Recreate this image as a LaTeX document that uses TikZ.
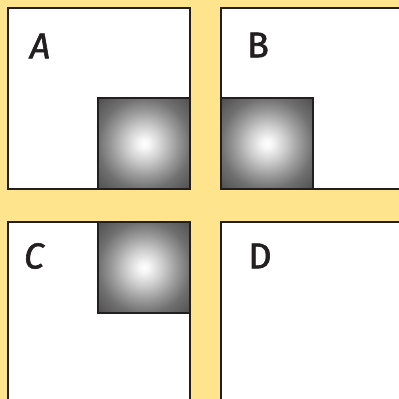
\documentclass[tikz,border=0pt]{standalone}
\usepackage{fontspec}
\setmainfont{Fira Sans}
\newfontfamily\lblfont[FakeBold=1.6]{Fira Sans}
\definecolor{bgyellow}{HTML}{FEE48C}
\definecolor{edge}{HTML}{231F20}
\pgfdeclareradialshading{softball}{\pgfpoint{0bp}{0bp}}{%
  color(0bp)=(white);
  color(3bp)=(white!96!black);
  color(10bp)=(white!80!black);
  color(18bp)=(white!60!black);
  color(25bp)=(white!44!black);
  color(36bp)=(white!30!black);
  color(50bp)=(white!30!black)}
\tikzset{
  panel/.style={draw=edge, fill=white, line width=2.5pt},
  darksq/.style={draw=edge, line width=2.5pt, shading=softball},
  lbl/.style={font=\lblfont\fontsize{36}{36}\selectfont, text=edge, inner sep=0pt}
}
\begin{document}
\begin{tikzpicture}[x=1pt,y=-1pt]
\useasboundingbox (0,0) rectangle (399,399);
\fill[bgyellow] (0,0) rectangle (399,399);
\begin{scope}
\clip (0,0) rectangle (399,399);
\draw[panel] (8,8) rectangle (190,189);
\draw[panel] (221,8) rectangle (410,189);
\draw[panel] (8,222) rectangle (190,410);
\draw[panel] (221,222) rectangle (410,410);
\draw[darksq] (98,98) rectangle (190,189);
\draw[darksq] (221,98) rectangle (313,189);
\draw[darksq] (98,222) rectangle (190,313);
\end{scope}
\node[lbl] (A) at (40,46) {\itshape A};
\node[lbl] (B) at (258,45) {B};
\node[lbl] (C) at (34,256) {\itshape C};
\node[lbl] (D) at (260,256) {D};
\end{tikzpicture}
\end{document}
